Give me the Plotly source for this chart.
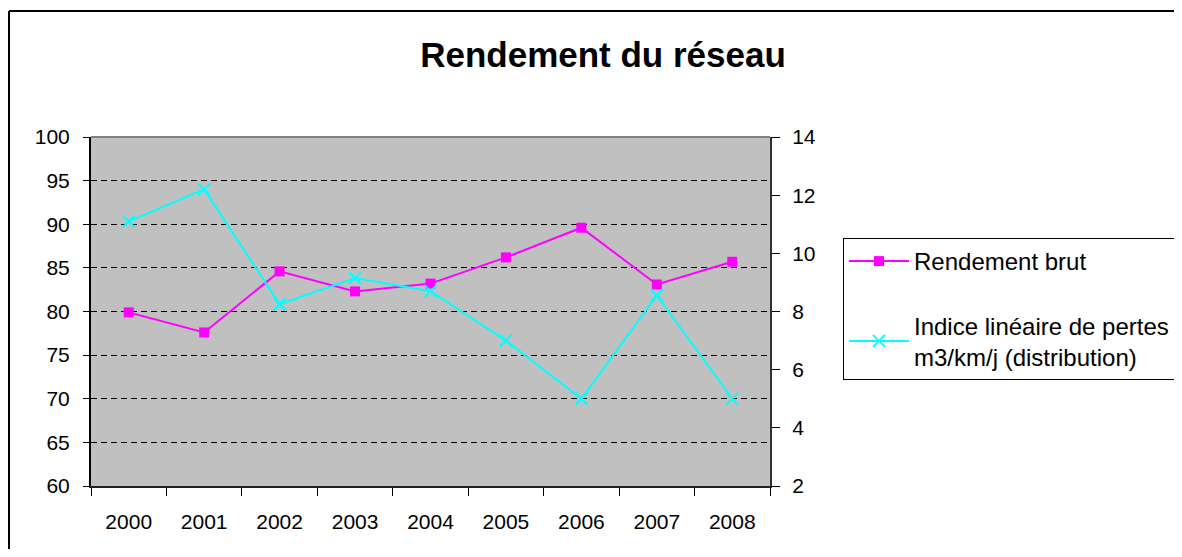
import plotly.graph_objects as go

years = ["2000", "2001", "2002", "2003", "2004", "2005", "2006", "2007", "2008"]
rendement_brut = [79.9, 77.6, 84.6, 82.3, 83.2, 86.2, 89.6, 83.1, 85.7]
indice_pertes = [11.1, 12.2, 8.25, 9.15, 8.7, 7.0, 5.0, 8.55, 5.0]

name1 = "Rendement brut"
name2 = "Indice linéaire de pertes<br>m3/km/j (distribution)"

OFF = 8  # default page body margin
W, H = 1182 - 2 * OFF, 557 - 2 * OFF
L, R, T, B = 91 - OFF, 770 - OFF, 137 - OFF, 486 - OFF

FONT = "Arial, Liberation Sans, sans-serif"

fig = go.Figure()
fig.add_trace(go.Scatter(
    x=years, y=rendement_brut, name=name1, mode="lines+markers",
    line=dict(color="#FF00FF", width=2),
    marker=dict(symbol="square", size=10, color="#FF00FF"),
    legendgroup="a",
))
fig.add_trace(go.Scatter(
    x=years, y=indice_pertes, name=name2, mode="lines+markers", yaxis="y2",
    line=dict(color="#00FFFF", width=2),
    marker=dict(symbol="x-thin", size=12, line=dict(color="#00FFFF", width=2)),
    legendgroup="b",
))

def px_x(p):
    return (p - OFF - L) / (R - L)

def px_y(p):
    return (B - (p - OFF)) / (B - T)

fig.update_layout(
    width=W, height=H,
    margin=dict(l=L, r=W - R, t=T, b=H - B, pad=0, autoexpand=False),
    paper_bgcolor="white",
    plot_bgcolor="#C0C0C0",
    font=dict(family=FONT, size=21, color="black"),
    showlegend=True,
    title=dict(
        text="<b>Rendement du réseau</b>",
        font=dict(family=FONT, size=35, color="black"),
        x=(603 - OFF) / W, xref="container", xanchor="center",
        y=1 - (55 - OFF) / H, yref="container", yanchor="middle",
    ),
    xaxis=dict(
        type="category", range=[-0.5, 8.5],
        showgrid=False, showline=True, linecolor="#202020", linewidth=2,
        mirror=False,
        ticks="outside", tickson="boundaries", ticklen=8, tickcolor="black",
        ticklabelstandoff=16, tickfont=dict(size=21),
        fixedrange=True,
    ),
    yaxis=dict(
        range=[60, 100], dtick=5, tick0=60,
        showgrid=True, gridcolor="black", gridwidth=1, griddash="6px,4px",
        showline=True, linecolor="black", linewidth=2,
        ticks="outside", ticklen=6, tickcolor="black",
        ticklabelstandoff=9, tickfont=dict(size=21),
        zeroline=False,
    ),
    yaxis2=dict(
        range=[2, 14], dtick=2, tick0=2, overlaying="y", side="right",
        showgrid=False, showline=True, linecolor="#303030", linewidth=2,
        ticks="outside", ticklen=8, tickcolor="black",
        ticklabelstandoff=8, tickfont=dict(size=21),
        zeroline=False,
    ),
    legend=dict(
        x=px_x(843), y=px_y(238), xanchor="left", yanchor="top",
        bordercolor="black", borderwidth=1, bgcolor="white",
        font=dict(family=FONT, size=24, color="black"),
        traceorder="grouped", tracegroupgap=30, itemwidth=60,
    ),
    shapes=[
        dict(type="line", xref="paper", yref="paper",
             x0=0, x1=1, y0=1, y1=1, line=dict(color="#808080", width=2)),
        dict(type="line", xref="paper", yref="paper",
             x0=px_x(9), x1=px_x(1300), y0=px_y(11), y1=px_y(11),
             line=dict(color="black", width=2), layer="below"),
        dict(type="line", xref="paper", yref="paper",
             x0=px_x(9), x1=px_x(9), y0=px_y(11), y1=px_y(700),
             line=dict(color="black", width=2), layer="below"),
    ],
)

fig.write_html("out.html", config={"displayModeBar": False})
